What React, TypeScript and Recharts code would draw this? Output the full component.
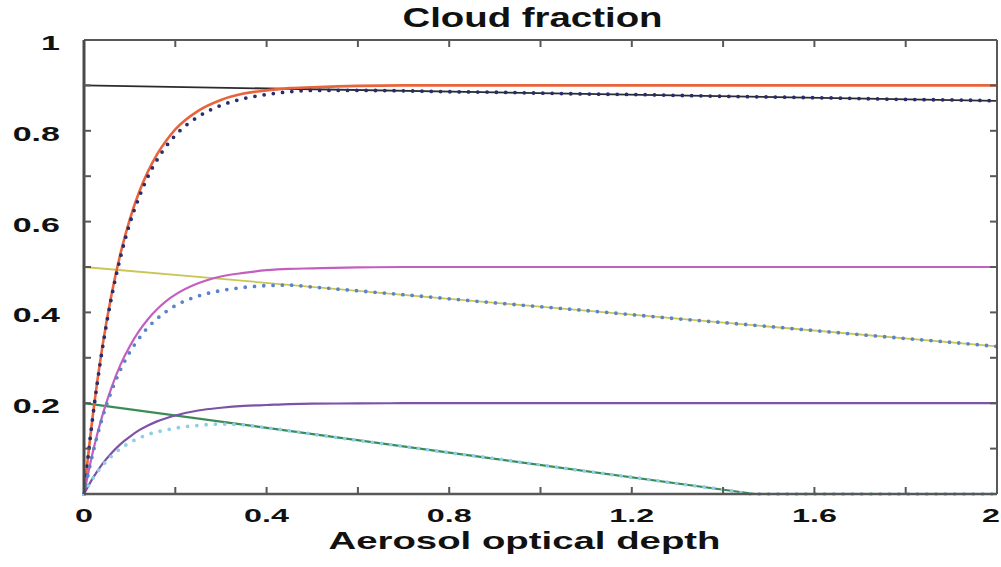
import { Line, LineChart, XAxis, YAxis } from "recharts";

// tick positions and which of them carry a printed label
const xTicks = [0, 0.2, 0.4, 0.6, 0.8, 1, 1.2, 1.4, 1.6, 1.8, 2];
const xLabeled = [0, 0.4, 0.8, 1.2, 1.6, 2];
const yTicks = [0, 0.1, 0.2, 0.3, 0.4, 0.5, 0.6, 0.7, 0.8, 0.9, 1];
const yLabeled = [0.2, 0.4, 0.6, 0.8, 1];

// aerosol optical depth sample points for the rising curves
const riseX = [
  0, 0.02, 0.04, 0.06, 0.08, 0.1, 0.12, 0.14, 0.16, 0.18, 0.2, 0.25, 0.3, 0.35, 0.4, 0.45, 0.5,
  0.6, 0.7, 0.8, 0.9, 1, 1.1, 1.2, 1.3, 1.4, 1.5, 1.6, 1.7, 1.8, 1.9, 2,
];

const orangeY = [
  0, 0.179, 0.323, 0.438, 0.53, 0.604, 0.663, 0.71, 0.748, 0.778, 0.803, 0.844, 0.868, 0.882, 0.889, 0.894, 0.896,
  0.899, 0.9, 0.9, 0.9, 0.9, 0.9, 0.9, 0.9, 0.9, 0.9, 0.9, 0.9, 0.9, 0.9, 0.9,
];
const navyY = [
  0, 0.176, 0.318, 0.432, 0.522, 0.595, 0.652, 0.699, 0.736, 0.766, 0.79, 0.831, 0.856, 0.871, 0.88, 0.886, 0.889,
  0.889, 0.888, 0.886, 0.885, 0.883, 0.881, 0.88, 0.878, 0.876, 0.8745, 0.873, 0.871, 0.869, 0.868, 0.866,
];
const magentaY = [
  0, 0.095, 0.172, 0.234, 0.285, 0.325, 0.358, 0.385, 0.407, 0.425, 0.439, 0.464, 0.479, 0.487, 0.493, 0.496, 0.497,
  0.499, 0.5, 0.5, 0.5, 0.5, 0.5, 0.5, 0.5, 0.5, 0.5, 0.5, 0.5, 0.5, 0.5, 0.5,
];
const blueY = [
  0, 0.0925, 0.167, 0.226, 0.274, 0.312, 0.342, 0.367, 0.386, 0.402, 0.415, 0.436, 0.448, 0.455, 0.459, 0.46, 0.456,
  0.4475, 0.439, 0.43, 0.421, 0.4125, 0.404, 0.395, 0.386, 0.3775, 0.369, 0.36, 0.351, 0.3425, 0.334, 0.325,
];
const purpleY = [
  0, 0.036, 0.066, 0.09, 0.11, 0.126, 0.14, 0.151, 0.16, 0.167, 0.173, 0.184, 0.19, 0.194, 0.196, 0.198, 0.199,
  0.1995, 0.2, 0.2, 0.2, 0.2, 0.2, 0.2, 0.2, 0.2, 0.2, 0.2, 0.2, 0.2, 0.2, 0.2,
];

const cyanX = [
  0, 0.02, 0.04, 0.06, 0.08, 0.1, 0.12, 0.14, 0.16, 0.18, 0.2, 0.25, 0.3, 0.35, 0.4,
  0.5, 0.6, 0.7, 0.8, 0.9, 1, 1.1, 1.2, 1.3, 1.4, 1.47, 1.6, 1.8, 2,
];
const cyanY = [
  0, 0.035, 0.062, 0.083, 0.1, 0.113, 0.123, 0.131, 0.137, 0.141, 0.145, 0.151, 0.154, 0.152, 0.146,
  0.132, 0.118, 0.105, 0.091, 0.078, 0.064, 0.05, 0.037, 0.023, 0.01, 0, 0, 0, 0,
];

const lineEndsX = [0, 2];
const blackY = [0.9, 0.866];
const yellowY = [0.5, 0.325];
const greenX = [0, 1.47, 2];
const greenY = [0.2, 0, 0];

const zip = (xs: number[], ys: number[]) => xs.map((x, i) => ({ x, y: ys[i] }));

const FONT = "'Liberation Sans', Arial, sans-serif";
const AXIS = "#585858";
const STRETCH = 1.62;

const labelWidth = (s: string, size: number) =>
  [...s].reduce((w, c) => w + (c === "." ? 0.278 : 0.556), 0) * size * STRETCH;

function StretchText({ x, y, size, width, anchor = "middle", children }: any) {
  return (
    <text
      x={x}
      y={y}
      textAnchor={anchor}
      fontFamily={FONT}
      fontWeight={700}
      fontSize={size}
      fill="#111"
      textLength={width}
      lengthAdjust="spacingAndGlyphs"
    >
      {children}
    </text>
  );
}

function BottomTick({ x, y, payload }: any) {
  const v = payload.value;
  const s = String(v);
  const edge = v === 0 || v === 2;
  return (
    <g>
      {!edge && <line x1={x} y1={y} x2={x} y2={y - 7} stroke={AXIS} strokeWidth={2} />}
      {xLabeled.includes(v) && (
        <StretchText x={v === 2 ? x + 3 : x} y={y + 28} size={19} width={labelWidth(s, 19) * 1.05} anchor={v === 2 ? "end" : "middle"}>
          {s}
        </StretchText>
      )}
    </g>
  );
}

function TopTick({ x, y, payload }: any) {
  const v = payload.value;
  if (v === 0 || v === 2) return <g />;
  return <line x1={x} y1={y} x2={x} y2={y + 7} stroke={AXIS} strokeWidth={2} />;
}

function LeftTick({ x, y, payload }: any) {
  const v = payload.value;
  const s = String(v);
  const edge = v === 0 || v === 1;
  return (
    <g>
      {!edge && <line x1={x} y1={y} x2={x + 7} y2={y} stroke={AXIS} strokeWidth={2} />}
      {yLabeled.includes(v) && (
        <StretchText x={x - 24} y={y + 10} size={21} width={labelWidth(s, 21)} anchor="end">
          {s}
        </StretchText>
      )}
    </g>
  );
}

function RightTick({ x, y, payload }: any) {
  const v = payload.value;
  if (v === 0 || v === 1) return <g />;
  return <line x1={x} y1={y} x2={x - 7} y2={y} stroke={AXIS} strokeWidth={2} />;
}

function ChartTitle({ viewBox }: any) {
  const cx = viewBox ? viewBox.x + viewBox.width / 2 - 8 : 532;
  return (
    <StretchText x={cx} y={27} size={28} width={260}>
      Cloud fraction
    </StretchText>
  );
}

function XTitle({ viewBox }: any) {
  const cx = viewBox ? viewBox.x + viewBox.width / 2 - 16 : 524;
  const top = viewBox ? viewBox.y : 494;
  return (
    <StretchText x={cx} y={top + 55} size={24} width={392}>
      Aerosol optical depth
    </StretchText>
  );
}

const solid = { dot: false, isAnimationActive: false, activeDot: false, dataKey: "y" } as const;
const dotted = { ...solid, strokeWidth: 3.8, strokeDasharray: "0 9.3", strokeLinecap: "round" as const };

export default function App() {
  return (
    <div style={{ position: "absolute", left: 0, top: 0, background: "#fff" }}>
      <LineChart width={1001} height={567} margin={{ top: 0, right: 0, bottom: 0, left: 0 }}>
        <XAxis
          dataKey="x"
          type="number"
          domain={[0, 2]}
          ticks={xTicks}
          interval={0}
          height={73}
          tickSize={0}
          tickMargin={0}
          tick={<BottomTick />}
          axisLine={{ stroke: AXIS, strokeWidth: 2.5 }}
          allowDuplicatedCategory={false}
          label={<XTitle />}
        />
        <XAxis
          xAxisId="top"
          orientation="top"
          dataKey="x"
          type="number"
          domain={[0, 2]}
          ticks={xTicks}
          interval={0}
          height={40}
          tickSize={0}
          tickMargin={0}
          tick={<TopTick />}
          axisLine={{ stroke: AXIS, strokeWidth: 2 }}
          label={<ChartTitle />}
        />
        <YAxis
          type="number"
          domain={[0, 1]}
          ticks={yTicks}
          interval={0}
          width={84}
          tickSize={0}
          tickMargin={0}
          tick={<LeftTick />}
          axisLine={{ stroke: "#4a4a4a", strokeWidth: 3 }}
        />
        <YAxis
          yAxisId="right"
          orientation="right"
          type="number"
          domain={[0, 1]}
          ticks={yTicks}
          interval={0}
          width={4}
          tickSize={0}
          tickMargin={0}
          tick={<RightTick />}
          axisLine={{ stroke: AXIS, strokeWidth: 2 }}
        />

        {/* the two straight reference lines are bound to the top/right frame axes (same domains) */}
        <Line {...solid} xAxisId="top" yAxisId="right" data={zip(lineEndsX, blackY)} type="linear" stroke="#2b2b2b" strokeWidth={1.8} />
        <Line {...solid} xAxisId="top" yAxisId="right" data={zip(lineEndsX, yellowY)} type="linear" stroke="#c9c655" strokeWidth={1.8} />
        <Line {...solid} data={zip(greenX, greenY)} type="linear" stroke="#3d8a55" strokeWidth={2.2} />
        <Line {...solid} data={zip(riseX, orangeY)} type="monotone" stroke="#e8643c" strokeWidth={2.6} />
        <Line {...solid} data={zip(riseX, magentaY)} type="monotone" stroke="#c25fbf" strokeWidth={2.2} />
        <Line {...solid} data={zip(riseX, purpleY)} type="monotone" stroke="#7d52a9" strokeWidth={2.2} />

        <Line {...dotted} data={zip(riseX, navyY)} type="monotone" stroke="#262c6e" />
        <Line {...dotted} data={zip(riseX, blueY)} type="monotone" stroke="#5a84c6" />
        <Line {...dotted} data={zip(cyanX, cyanY)} type="monotone" stroke="#8cd0e8" />
      </LineChart>
    </div>
  );
}
